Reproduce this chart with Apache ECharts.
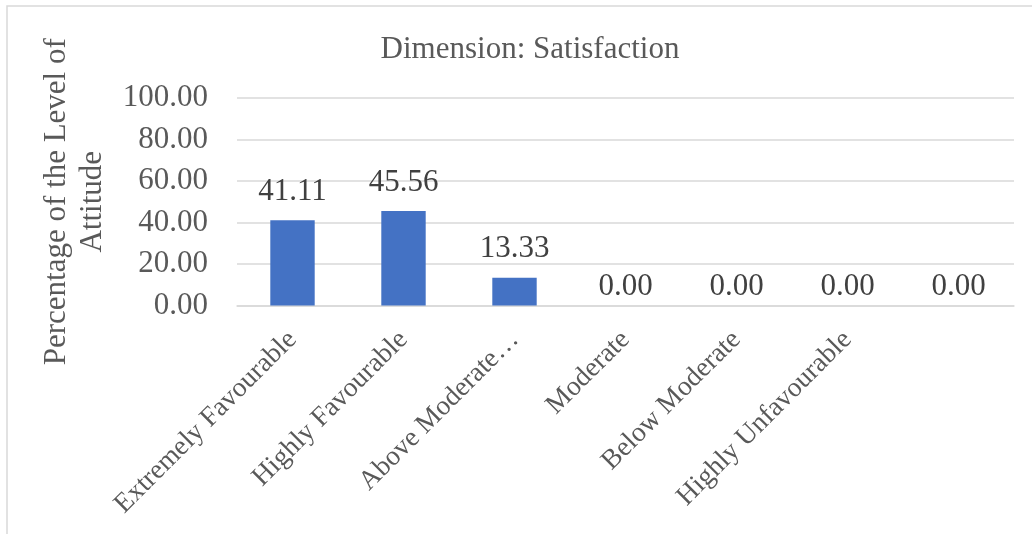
<!DOCTYPE html>
<html>
<head>
<meta charset="utf-8">
<title>Dimension: Satisfaction</title>
<script src="https://cdn.jsdelivr.net/npm/echarts@6/dist/echarts.min.js"></script>
<style>
  html, body { margin: 0; padding: 0; background: #ffffff; }
  #chart { width: 1032px; height: 534px; }
</style>
</head>
<body>
<div id="chart"></div>
<script>
// Attitude levels along the x axis
const categories = ['Extremely Favourable', 'Highly Favourable', 'Above Moderate\u2026', 'Moderate', 'Below Moderate', 'Highly Unfavourable', ''];
// Percentage of respondents at each level
const percentages = [41.11, 45.56, 13.33, 0.00, 0.00, 0.00, 0.00];
// Value axis ticks
const yTicks = [0, 20, 40, 60, 80, 100];

const FONT = '"Liberation Serif", "Times New Roman", serif';
const FS = 31;

const chart = echarts.init(document.getElementById('chart'), null, { renderer: 'canvas' });

chart.setOption({
  backgroundColor: '#ffffff',
  animation: false,
  title: {
    text: 'Dimension: Satisfaction',
    left: 525,
    top: 29,
    textAlign: 'center',
    textStyle: { fontFamily: FONT, fontSize: FS, fontWeight: 'normal', color: '#595959' }
  },
  graphic: [{
    type: 'rect',
    shape: { x: 7, y: 6, width: 1200, height: 700 },
    style: { fill: 'none', stroke: '#d9d9d9', lineWidth: 1.5 },
    silent: true
  }],
  grid: { left: 237, right: 18, top: 98, bottom: 228.5, containLabel: false },
  xAxis: {
    type: 'category',
    data: categories,
    axisLine: { show: true, lineStyle: { color: '#d9d9d9', width: 1.5 } },
    axisTick: { show: false },
    axisLabel: {
      interval: 0,
      rotate: 45,
      margin: 30,
      fontFamily: FONT,
      fontSize: 27.5,
      color: '#595959'
    }
  },
  yAxis: {
    type: 'value',
    min: yTicks[0],
    max: yTicks[yTicks.length - 1],
    interval: yTicks[1] - yTicks[0],
    name: 'Percentage of the Level of\nAttitude',
    nameLocation: 'middle',
    nameRotate: 90,
    nameGap: 126,
    nameTextStyle: { fontFamily: FONT, fontSize: FS, color: '#595959', lineHeight: 36, align: 'center' },
    axisLine: { show: false },
    axisTick: { show: false },
    splitLine: { lineStyle: { color: '#d9d9d9', width: 1.5 } },
    axisLabel: {
      margin: 29,
      fontFamily: FONT,
      fontSize: FS,
      color: '#595959',
      formatter: v => v.toFixed(2)
    }
  },
  series: [{
    type: 'bar',
    data: percentages.map(v => ({ value: v, label: { distance: v === 0 ? 3 : 13 } })),
    barWidth: '40%',
    itemStyle: { color: '#4472c4' },
    label: {
      show: true,
      position: 'top',
      fontFamily: FONT,
      fontSize: FS,
      color: '#404040',
      formatter: p => p.value.toFixed(2)
    }
  }]
});
</script>
</body>
</html>
